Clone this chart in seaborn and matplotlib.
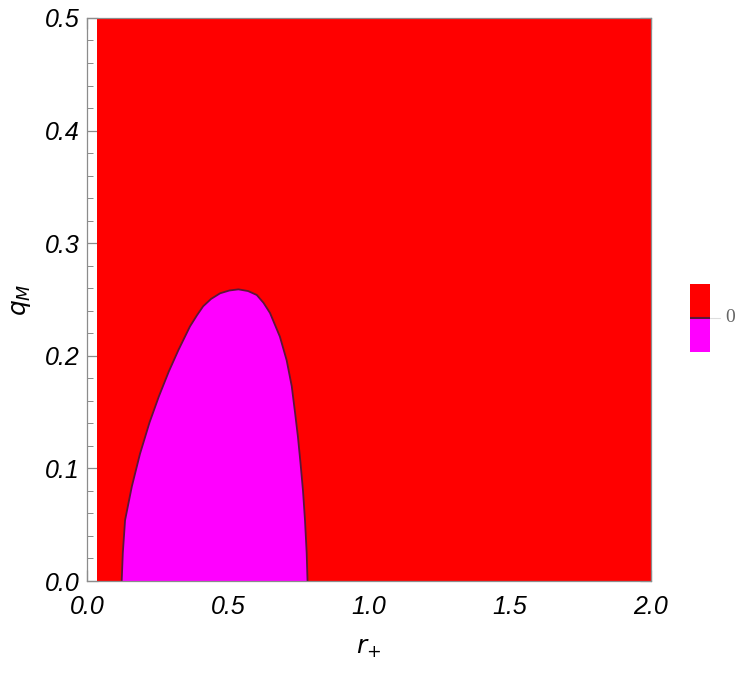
import numpy as np
import pandas as pd
import matplotlib
matplotlib.use("Agg")
import matplotlib.pyplot as plt
from matplotlib.ticker import MultipleLocator, FormatStrFormatter
from matplotlib.patches import Rectangle
import seaborn as sns

# region where the function is defined (red) starts a bit right of r+ = 0
red_r_start = 0.035
r_max = 2.0
q_max = 0.5

# zero contour, traced from left foot over the top to the right foot
boundary_r = [0.123, 0.127, 0.135, 0.159, 0.188, 0.222, 0.255, 0.290, 0.324, 0.365,
              0.390, 0.412, 0.440, 0.472, 0.505, 0.537, 0.571, 0.602, 0.626, 0.649,
              0.684, 0.708, 0.726, 0.738, 0.748, 0.757, 0.766, 0.773, 0.779, 0.782]
boundary_q = [0.000, 0.025, 0.054, 0.084, 0.113, 0.141, 0.164, 0.186, 0.205, 0.226,
              0.236, 0.244, 0.2505, 0.2555, 0.258, 0.259, 0.2575, 0.254, 0.247, 0.238,
              0.217, 0.196, 0.173, 0.149, 0.128, 0.105, 0.080, 0.054, 0.025, 0.000]

red = "#ff0000"
magenta = "#ff00ff"
curve_col = "#5c1638"
frame_col = "#8c8c8c"

sns.set_style("white")
plt.rcParams['font.family'] = ['Liberation Sans', 'DejaVu Sans']

fig = plt.figure(figsize=(7.5, 6.73), dpi=100)
ax = fig.add_axes([0.116, 0.1367, 0.752, 0.8366])

ax.fill_between([red_r_start, r_max], 0, q_max, color=red, lw=0, zorder=1)
ax.fill(boundary_r, boundary_q, color=magenta, lw=0, zorder=2)
df = pd.DataFrame({"r": boundary_r, "q": boundary_q})
sns.lineplot(data=df, x="r", y="q", sort=False, color=curve_col, lw=1.3, ax=ax, zorder=3)

ax.set_xlim(0, r_max)
ax.set_ylim(0, q_max)
ax.xaxis.set_major_locator(MultipleLocator(0.5))
ax.xaxis.set_minor_locator(MultipleLocator(0.1))
ax.yaxis.set_major_locator(MultipleLocator(0.1))
ax.yaxis.set_minor_locator(MultipleLocator(0.02))
ax.xaxis.set_major_formatter(FormatStrFormatter("%.1f"))
ax.yaxis.set_major_formatter(FormatStrFormatter("%.1f"))
ax.tick_params(which="both", direction="in", bottom=True, left=True, top=True, right=True,
               color=frame_col, labelsize=18, labelcolor="black")
ax.tick_params(axis="x", which="major", pad=10)
ax.tick_params(axis="y", which="major", pad=5)
ax.tick_params(which="major", length=8, width=0.9)
ax.tick_params(which="minor", length=4, width=0.7)
for lab in ax.get_xticklabels() + ax.get_yticklabels():
    lab.set_fontstyle("italic")
for sp in ax.spines.values():
    sp.set_color(frame_col)
    sp.set_linewidth(0.9)
    sp.set_zorder(5)

ax.set_xlabel(r"$r_{+}$", fontsize=18, labelpad=12, color="black")
ax.set_ylabel(r"$q_{M}$", fontsize=18, labelpad=9, color="black")

# legend swatches
lax = fig.add_axes([0.92, 0.477, 0.027, 0.101])
lax.add_patch(Rectangle((0, 0.5), 1, 0.5, color=red, lw=0))
lax.add_patch(Rectangle((0, 0), 1, 0.5, color=magenta, lw=0))
lax.plot([0, 1], [0.5, 0.5], color=curve_col, lw=1.5)
lax.plot([1, 1.5], [0.5, 0.5], color="#dddddd", lw=0.8, clip_on=False)
lax.text(1.75, 0.5, "0", va="center", ha="left", fontsize=14, color="#666666",
         family=["Liberation Serif", "DejaVu Serif"])
lax.set_xlim(0, 1)
lax.set_ylim(0, 1)
lax.axis("off")

fig.savefig("out.png", dpi=100)
